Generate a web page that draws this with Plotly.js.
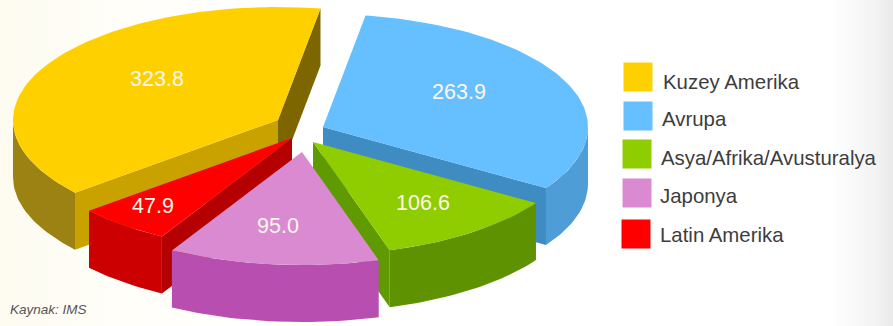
<!DOCTYPE html>
<html>
<head>
<meta charset="utf-8">
<script src="https://cdn.plot.ly/plotly-3.0.1.min.js"></script>
<style>
  html, body { margin: 0; padding: 0; width: 893px; height: 326px; overflow: hidden;
    background: linear-gradient(to right, #fdfbf0 0px, #fffef9 120px, #ffffff 300px, #ffffff 830px, #f3f3f3 875px, #e9e9e9 893px); }
  #chart { width: 893px; height: 326px; }
</style>
</head>
<body>
<div id="chart"></div>
<script>
// Regional market sizes, one wedge per region, clockwise from the front-left seam.
const regions = ['Kuzey Amerika', 'Avrupa', 'Asya/Afrika/Avusturalya', 'Japonya', 'Latin Amerika'];
const values = [323.8, 263.9, 106.6, 95.0, 47.9];
const sourceNote = 'Kaynak: IMS';

const topColors = ['#ffd000', '#66bfff', '#8fcc00', '#d98ad0', '#ff0000'];
const rimColors = ['#9c8212', '#4f9dd6', '#5f9200', '#b84fb0', '#cc0000'];
const seamColors = ['#c9a200', '#3f8cc2', '#5f9a00', '#b84fb0', '#b40000'];
const backSeamColor = '#7d6500';

// Projection of the disc: ellipse radii, thickness and the wedge tips after exploding.
const RX = 265, RY = 113, DEPTH = 57;
const tipX = [278, 323, 313, 302, 292];
const tipY = [120, 127, 142, 152, 138];
const drawOrder = [0, 1, 2, 4, 3];
const START_DEG = -130;

// The front of the disc reads slightly wider in perspective, which bends the seams there.
function projected(deg) {
  const t = (deg - 122.7) / (209.4 - 122.7);
  return deg - (t > 0 && t < 1 ? 5.4 * Math.sin(Math.PI * t) : 0);
}

const total = values.reduce((a, b) => a + b, 0);
let running = START_DEG;
const spans = values.map(v => {
  const from = running;
  running += v / total * 360;
  return [projected(from), projected(running)];
});

function rimPoint(i, deg) {
  const r = deg * Math.PI / 180;
  return [tipX[i] + RX * Math.sin(r), tipY[i] - RY * Math.cos(r)];
}
function arc(i, a, b) {
  const pts = [];
  const n = Math.max(2, Math.ceil(Math.abs(b - a) / 1.5));
  for (let k = 0; k <= n; k++) pts.push(rimPoint(i, a + (b - a) * k / n));
  return pts;
}
function poly(pts, color) {
  return {
    type: 'scatter', mode: 'lines', fill: 'toself', fillcolor: color,
    x: pts.map(p => p[0]).concat(pts[0][0]),
    y: pts.map(p => p[1]).concat(pts[0][1]),
    line: { width: 0, color: color }, hoverinfo: 'skip', showlegend: false
  };
}
function extrude(pts, color) {
  const low = pts.slice().reverse().map(p => [p[0], p[1] + DEPTH]);
  return poly(pts.concat(low), color);
}

const traces = [];
drawOrder.forEach(i => {
  const [a, b] = spans[i];
  const tip = [tipX[i], tipY[i]];
  // Seam walls that face the viewer
  if (i === 0) {
    traces.push(extrude([tip, rimPoint(i, b)], backSeamColor));
    traces.push(extrude([tip, rimPoint(i, a)], seamColors[i]));
  }
  if (i === 1) traces.push(extrude([tip, rimPoint(i, b)], seamColors[i]));
  if (i === 2) traces.push(extrude([tip, rimPoint(i, b)], seamColors[i]));
  if (i === 4) traces.push(extrude([tip, rimPoint(i, a)], seamColors[i]));
  // Outer wall: only the part of the rim on the near half of the ellipse
  const wrap = a < 0 ? 360 : 0;
  const lo = Math.max(a + wrap, 90), hi = Math.min(b + wrap, 270);
  if (lo < hi) traces.push(extrude(arc(i, lo, hi), rimColors[i]));
  // Top face
  traces.push(poly([tip].concat(arc(i, a, b)), topColors[i]));
});

// Value labels sitting on the top faces
const labelX = [157, 459, 423, 278, 153];
const labelY = [81, 94, 205, 228, 208];
traces.push({
  type: 'scatter', mode: 'text', x: labelX, y: labelY,
  text: values.map(v => v.toFixed(1)), textposition: 'middle center',
  textfont: { family: 'Liberation Sans, Arial, sans-serif', size: 21.5, color: '#fff6ea' },
  hoverinfo: 'skip', showlegend: false
});

// Key: colour swatches with region names
const swatchX = [638, 638, 637, 637, 636];
const swatchY = [77, 116, 154, 193, 234];
traces.push({
  type: 'scatter', mode: 'markers', x: swatchX, y: swatchY,
  marker: { symbol: 'square', size: 29, color: topColors, line: { width: 0 } },
  hoverinfo: 'skip', showlegend: false
});
const keyX = [661, 660, 659, 658, 658];
const keyY = [82, 119, 158, 196, 235];

const annotations = regions.map((name, i) => ({
  xref: 'x', yref: 'y', x: keyX[i], y: keyY[i], xanchor: 'left', yanchor: 'middle',
  text: name, showarrow: false, align: 'left',
  font: { family: 'Liberation Sans, Arial, sans-serif', size: 20.4, color: '#3d3d3d' }
}));
annotations.push({
  xref: 'x', yref: 'y', x: 8, y: 309, xanchor: 'left', yanchor: 'middle',
  text: '<i>' + sourceNote + '</i>', showarrow: false,
  font: { family: 'Liberation Sans, Arial, sans-serif', size: 13.5, color: '#555555' }
});

const hiddenAxis = { visible: false, fixedrange: true, showgrid: false, zeroline: false };
Plotly.newPlot('chart', traces, {
  width: 893, height: 326,
  margin: { l: 0, r: 0, t: 0, b: 0, pad: 0 },
  paper_bgcolor: 'rgba(0,0,0,0)', plot_bgcolor: 'rgba(0,0,0,0)',
  xaxis: Object.assign({ range: [0, 893] }, hiddenAxis),
  yaxis: Object.assign({ range: [326, 0] }, hiddenAxis),
  annotations: annotations, showlegend: false
}, { displayModeBar: false, staticPlot: true });
</script>
</body>
</html>
